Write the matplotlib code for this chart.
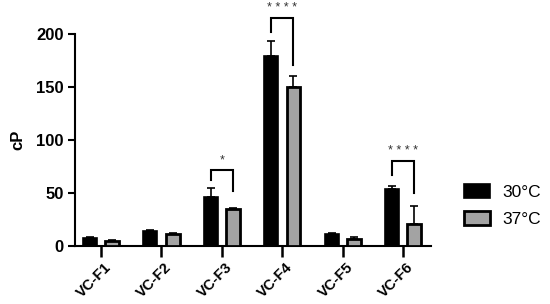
import matplotlib
matplotlib.use("Agg")
import matplotlib.pyplot as plt
import numpy as np

categories = ["VC-F1", "VC-F2", "VC-F3", "VC-F4", "VC-F5", "VC-F6"]
vals_30 = [7.8, 14.0, 46.4, 179.0, 11.3, 53.6]
err_30 = [0.8, 1.5, 8.2, 14.0, 0.8, 3.2]
vals_37 = [5.0, 11.0, 34.8, 150.0, 6.3, 20.7]
err_37 = [0.6, 1.0, 0.8, 10.0, 2.5, 17.0]
series_labels = ["30°C", "37°C"]
# significance: (category index, label, bracket top, left leg bottom, right leg bottom)
sig_idx = [2, 3, 5]
sig_text = ["*", "* * * *", "* * * *"]
sig_top = [71.5, 215.0, 80.3]
sig_left = [62.0, 201.0, 67.0]
sig_right = [52.0, 170.0, 50.0]

plt.rcParams['font.family'] = ['Liberation Sans', 'DejaVu Sans']

fig = plt.figure(figsize=(5.5, 3.04), dpi=100)
ax = fig.add_axes([75/550, 1 - 246/304, (431-75)/550, (246-33.5)/304])

x = np.arange(len(categories))
w = 0.23
off = 0.185
ax.bar(x - off, vals_30, w, color="black", edgecolor="black", linewidth=1.2,
       label=series_labels[0], zorder=3)
ax.bar(x + off, vals_37, w, color="#a3a3a3", edgecolor="black", linewidth=2.0,
       label=series_labels[1], zorder=3)
ax.errorbar(x - off, vals_30, yerr=[np.zeros(len(x)), err_30], fmt="none",
            ecolor="black", elinewidth=1.2, capsize=3, capthick=1.2, zorder=2)
ax.errorbar(x + off, vals_37, yerr=[np.zeros(len(x)), err_37], fmt="none",
            ecolor="black", elinewidth=1.2, capsize=3, capthick=1.2, zorder=2)

for i, t, top, lb, rb in zip(sig_idx, sig_text, sig_top, sig_left, sig_right):
    xl, xr = i - off, i + off
    ax.plot([xl, xl, xr, xr], [lb, top, top, rb], color="black", lw=1.5,
            clip_on=False, solid_joinstyle="miter")
    ax.text(i, top + 3, t, ha="center", va="bottom", fontsize=9,
            color="#333333", clip_on=False)

ax.set_xlim(-0.43, len(categories) - 1 + 0.46)
ax.set_ylim(0, 200)
ax.set_yticks([0, 50, 100, 150, 200])
ax.set_xticks(x)
ax.set_xticklabels(categories, rotation=45, ha="right", rotation_mode="anchor",
                   fontweight="bold", fontsize=10.5, va="top")
for lab in ax.get_yticklabels():
    lab.set_fontweight("bold")
    lab.set_fontsize(12)
ax.tick_params(axis="x", direction="out", length=8, width=1.8, pad=2)
ax.tick_params(axis="y", direction="out", length=5, width=1.5, pad=3)
ax.spines["top"].set_visible(False)
ax.spines["right"].set_visible(False)
ax.spines["left"].set_linewidth(1.5)
ax.spines["bottom"].set_linewidth(1.5)
ax.set_ylabel("cP", fontweight="bold", fontsize=12, labelpad=8)

import matplotlib.transforms as mtransforms
shift = mtransforms.ScaledTranslation(3/100, 0, fig.dpi_scale_trans)
for lab in ax.get_xticklabels():
    lab.set_transform(lab.get_transform() + shift)

ax.legend(loc="center left", bbox_to_anchor=(1.05, 0.19), frameon=False,
          fontsize=12.5, handlelength=1.45, handleheight=0.85, handletextpad=0.75,
          labelspacing=0.65)

fig.savefig("out.png", dpi=100)
